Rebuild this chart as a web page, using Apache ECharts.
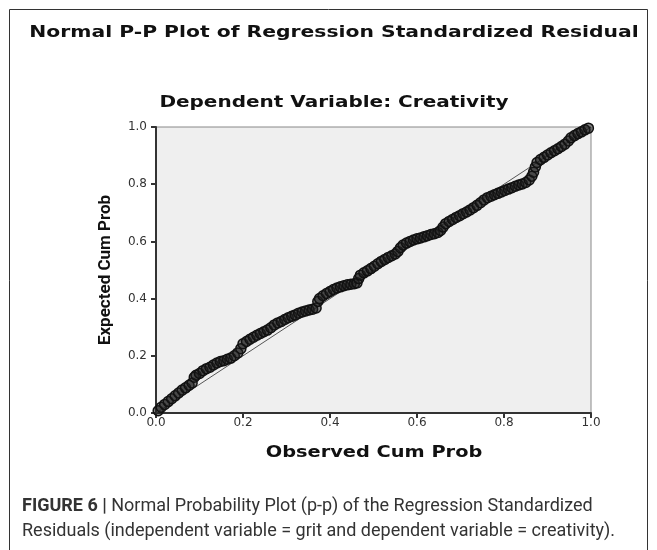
<!DOCTYPE html>
<html>
<head>
<meta charset="utf-8">
<script src="https://cdn.jsdelivr.net/npm/echarts@6/dist/echarts.min.js"></script>
<style>
  html, body { margin: 0; padding: 0; background: #fff; }
  #main { width: 657px; height: 550px; }
</style>
</head>
<body>
<div id="main"></div>
<script>
// observed cum prob (x) / expected cum prob (y)
var observed = [0.005,0.012,0.02,0.028,0.036,0.044,0.052,0.06,0.068,0.076,0.083,0.088,0.092,0.1,0.108,0.116,0.124,0.132,0.14,0.148,0.156,0.164,0.172,0.18,0.188,0.195,0.2,0.208,0.216,0.224,0.232,0.24,0.248,0.256,0.264,0.272,0.28,0.288,0.296,0.304,0.312,0.32,0.328,0.336,0.344,0.352,0.36,0.368,0.372,0.376,0.384,0.392,0.4,0.408,0.416,0.424,0.432,0.44,0.448,0.456,0.462,0.466,0.47,0.478,0.486,0.494,0.502,0.51,0.518,0.526,0.534,0.542,0.55,0.556,0.562,0.568,0.576,0.584,0.592,0.6,0.608,0.616,0.624,0.632,0.64,0.648,0.654,0.66,0.666,0.674,0.682,0.69,0.698,0.706,0.714,0.722,0.73,0.738,0.746,0.754,0.762,0.77,0.778,0.786,0.794,0.802,0.81,0.818,0.826,0.834,0.842,0.85,0.858,0.864,0.868,0.872,0.876,0.884,0.892,0.9,0.908,0.916,0.924,0.932,0.94,0.948,0.954,0.962,0.97,0.978,0.986,0.994];
var expected = [0.008,0.02,0.03,0.04,0.05,0.06,0.07,0.08,0.088,0.097,0.105,0.125,0.132,0.138,0.148,0.155,0.16,0.168,0.175,0.18,0.183,0.188,0.192,0.2,0.21,0.225,0.242,0.25,0.258,0.265,0.272,0.278,0.284,0.29,0.298,0.308,0.315,0.32,0.327,0.333,0.338,0.343,0.349,0.353,0.357,0.36,0.363,0.367,0.39,0.4,0.41,0.418,0.425,0.432,0.437,0.441,0.445,0.448,0.45,0.452,0.455,0.47,0.482,0.49,0.497,0.505,0.513,0.522,0.53,0.537,0.544,0.55,0.556,0.565,0.578,0.587,0.594,0.6,0.605,0.609,0.612,0.616,0.62,0.624,0.627,0.631,0.638,0.65,0.662,0.67,0.677,0.684,0.69,0.697,0.703,0.71,0.718,0.726,0.735,0.745,0.753,0.758,0.763,0.768,0.773,0.778,0.783,0.788,0.793,0.797,0.801,0.806,0.815,0.828,0.842,0.86,0.876,0.886,0.894,0.902,0.91,0.917,0.924,0.932,0.94,0.951,0.962,0.97,0.977,0.983,0.99,0.996];
var refLine = [[0, 0], [1, 1]];

var points = observed.map(function (x, i) { return [x, expected[i]]; });

var myChart = echarts.init(document.getElementById('main'));
var boldWide = 'DejaVu Sans';
var capFont = 'Roboto, sans-serif';

// SPSS style headings look stretched sideways, so draw them with scaleX
function wideText(str, x, y, size, sx) {
  return {
    type: 'text', x: x, y: y, scaleX: sx, silent: true,
    style: {
      text: str, fill: '#111', align: 'center', verticalAlign: 'middle',
      font: 'bold ' + size + 'px "DejaVu Sans"'
    }
  };
}

var option = {
  backgroundColor: '#fff',
  animation: false,
  title: [
    {
      text: '{b|FIGURE 6 |}{n| Normal Probability Plot (p-p) of the Regression Standardized}',
      left: 17, top: 492,
      textStyle: {
        fontFamily: capFont, fontSize: 18, fontWeight: 'normal', color: '#333',
        rich: {
          b: { fontFamily: capFont, fontSize: 18, fontWeight: 'bold', color: '#333' },
          n: { fontFamily: capFont, fontSize: 18, fontWeight: 'normal', color: '#333' }
        }
      }
    },
    {
      text: 'Residuals (independent variable = grit and dependent variable = creativity).',
      left: 17, top: 517,
      textStyle: { fontFamily: capFont, fontSize: 18, fontWeight: 'normal', color: '#333' }
    }
  ],
  graphic: [
    {
      type: 'rect', silent: true,
      shape: { x: 9.5, y: 9.5, width: 638, height: 600 },
      style: { fill: 'none', stroke: '#333', lineWidth: 1 }
    },
    wideText('Normal P-P Plot of Regression Standardized Residual', 334, 33, 16, 1.27),
    wideText('Dependent Variable: Creativity', 334, 103, 16, 1.25),
    wideText('Observed Cum Prob', 374, 453, 15, 1.29)
  ],
  grid: {
    left: 156, top: 127, width: 435, height: 286,
    show: true, backgroundColor: '#efefef', borderColor: '#888', borderWidth: 1
  },
  xAxis: {
    type: 'value', min: 0, max: 1, interval: 0.2,
    axisLine: { show: true, lineStyle: { color: '#333', width: 2 } },
    axisTick: { show: true, length: 5, lineStyle: { color: '#333', width: 2 } },
    axisLabel: {
      margin: 4, color: '#333', fontFamily: boldWide, fontSize: 12,
      formatter: function (v) { return v.toFixed(1); }
    },
    splitLine: { show: false }
  },
  yAxis: {
    type: 'value', min: 0, max: 1, interval: 0.2,
    name: 'Expected Cum Prob', nameLocation: 'middle', nameGap: 42, nameRotate: 90,
    nameTextStyle: { fontFamily: capFont, fontWeight: 'bold', fontSize: 17, color: '#111' },
    axisLine: { show: true, lineStyle: { color: '#333', width: 2 } },
    axisTick: { show: true, length: 5, lineStyle: { color: '#333', width: 2 } },
    axisLabel: {
      margin: 9, color: '#333', fontFamily: boldWide, fontSize: 12,
      formatter: function (v) { return v.toFixed(1); }
    },
    splitLine: { show: false }
  },
  series: [
    {
      type: 'line', data: refLine, symbol: 'none', silent: true,
      lineStyle: { color: '#555', width: 1 }, z: 1
    },
    {
      type: 'scatter', data: points, symbol: 'circle', symbolSize: 10,
      itemStyle: { color: 'rgba(30,30,30,0.55)', borderColor: '#111', borderWidth: 1.5, opacity: 1 },
      z: 2
    }
  ]
};

myChart.setOption(option);
</script>
</body>
</html>
